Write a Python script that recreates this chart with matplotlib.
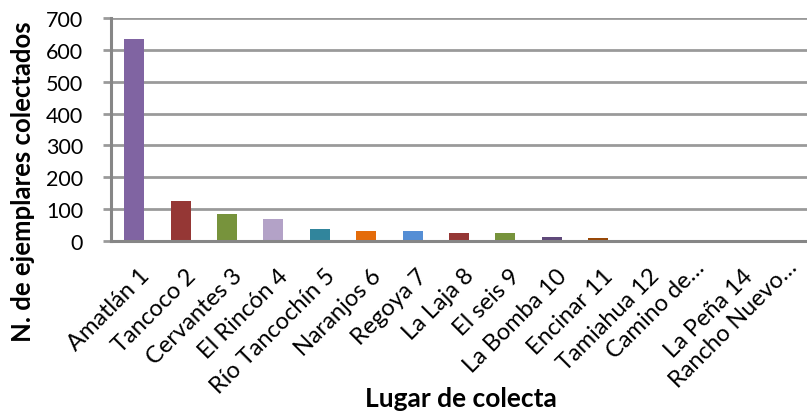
import matplotlib.pyplot as plt
from matplotlib import transforms

# datos
lugares = ["Amatlán 1", "Tancoco 2", "Cervantes 3", "El Rincón 4", "Río Tancochín 5",
           "Naranjos 6", "Regoya 7", "La Laja 8", "El seis 9", "La Bomba 10",
           "Encinar 11", "Tamiahua 12", "Camino de…", "La Peña 14", "Rancho Nuevo…"]
ejemplares = [634, 125, 85, 69, 38, 31, 31, 25, 25, 12, 8, 0, 0, 0, 0]
colores = ["#8064A2", "#953735", "#77933C", "#B3A2C7", "#31859C", "#E46C0A", "#558ED5",
           "#953735", "#77933C", "#5F497A", "#984807", "#4F81BD", "#C0504D", "#9BBB59", "#8064A2"]
yticks = [0, 100, 200, 300, 400, 500, 600, 700]

plt.rcParams["font.family"] = ["Lato", "DejaVu Sans"]

fig = plt.figure(figsize=(8.07, 4.14), dpi=100)
ax = fig.add_axes([0.1375, 0.4155, 0.8625, 0.5385])

x = list(range(len(lugares)))
ax.bar(x, ejemplares, width=0.43, color=colores, zorder=3)

ax.set_xlim(-0.5, len(lugares) - 0.5)
ax.set_ylim(0, 700)
ax.set_yticks(yticks)
ax.yaxis.grid(True, color="#9A9A9A", linewidth=2, zorder=0)
ax.set_axisbelow(True)

for s in ["top", "right"]:
    ax.spines[s].set_visible(False)
for s in ["left", "bottom"]:
    ax.spines[s].set_color("#868686")
    ax.spines[s].set_linewidth(2.2)
    ax.spines[s].set_zorder(4)

ax.tick_params(axis="y", length=6, width=2, color="#9A9A9A", labelsize=15.5, pad=14)
ax.tick_params(axis="x", length=0, labelsize=17, pad=17)
ax.set_xticks(x)
ax.set_xticklabels(lugares, rotation=45, ha="right", rotation_mode="anchor")
for t in ax.get_xticklabels():
    # las etiquetas recortadas (con …) quedan un poco mas arriba
    if t.get_text().endswith("…"):
        d = transforms.ScaledTranslation(2 / 72, 6 / 72, fig.dpi_scale_trans)
    else:
        d = transforms.ScaledTranslation(3 / 72, 0, fig.dpi_scale_trans)
    t.set_transform(t.get_transform() + d)

ax.set_ylabel("N. de ejemplares colectados", fontsize=18.5, fontweight="bold", va="center")
ax.yaxis.set_label_coords(-0.126, 0.27)
ax.set_xlabel("Lugar de colecta", fontsize=19, fontweight="bold", va="baseline")
ax.xaxis.set_label_coords(0.503, -0.74)

fig.savefig("out.png", dpi=100)
